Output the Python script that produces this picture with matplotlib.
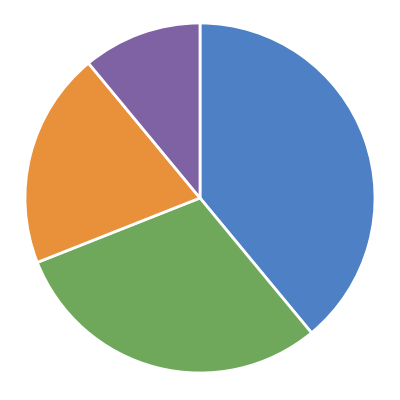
import matplotlib
matplotlib.use('Agg')
import matplotlib.pyplot as plt

# valores (porcentajes aproximados)
etiquetas = ['A', 'B', 'C', 'D']
valores = [39, 30, 20, 11]
colores = ['#4e80c5', '#6fa85b', '#e8903a', '#7f62a4']

fig = plt.figure(figsize=(4, 4), dpi=100)
ax = fig.add_axes([25 / 400, 27 / 400, 350 / 400, 350 / 400])
ax.pie(valores, colors=colores, startangle=90, counterclock=False,
       wedgeprops={'edgecolor': 'white', 'linewidth': 2})
ax.set_xlim(-1, 1)
ax.set_ylim(-1, 1)
ax.set_aspect('equal')
fig.savefig('out.png', dpi=100, facecolor='white')
